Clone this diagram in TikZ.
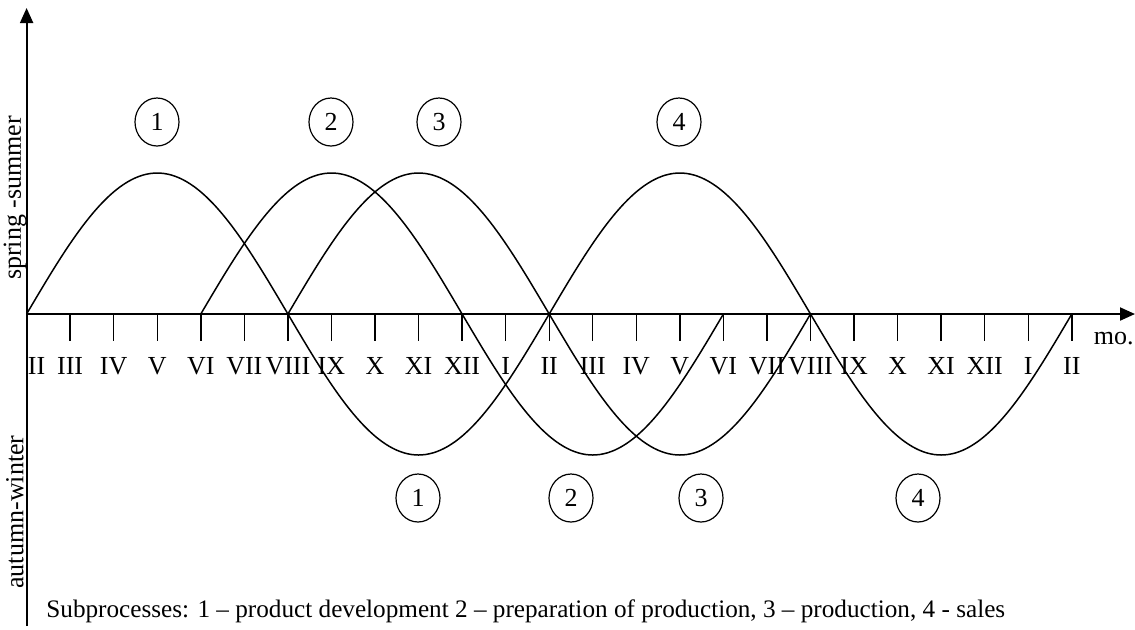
\documentclass[tikz,border=0pt]{standalone}
\usepackage{fontspec}
\setmainfont{Liberation Serif}
\usetikzlibrary{shapes,arrows.meta,positioning,calc}

\begin{document}
\begin{tikzpicture}[x=0.5pt,y=-0.5pt,
    every node/.style={font=\fontsize{13}{15}\selectfont},
    axis/.style={line width=1pt,-{Triangle[length=7.5pt,width=6.5pt]}},
    wave/.style={line width=0.75pt,smooth},
    numcirc/.style={draw,ellipse,line width=0.6pt,minimum width=22pt,minimum height=24pt,inner sep=0pt}]
  \useasboundingbox (0,0) rectangle (1135,629);
  % axes
  \coordinate (O) at (26.6,314);
  \coordinate (xend) at (1135,314);
  \coordinate (ytop) at (26.6,8);
  \coordinate (ybot) at (26.6,626);
  \draw[axis] (O) -- (xend);
  \draw[axis] (ybot) -- (ytop);
  % months
  \node (m0) at ($(O)+(10,52)$) {II};
  \foreach \m [count=\k from 1] in {III,IV,V,VI,VII,VIII,IX,X,XI,XII,I,II,III,IV,V,VI,VII,VIII,IX,X,XI,XII,I,II} {
    \draw[line width=0.7pt] ($(O)+(43.55*\k,0)$) -- ++(0,27);
    \node (m\k) at ($(O)+(43.55*\k,52)$) {\m};
  }
  % subprocess waves
  \foreach \s in {0,4,6,12}
    \draw[wave] plot[domain=0:12,samples=73] ({26.6+43.55*(\s+\x)},{314-141*sin(30*\x)});
  % numbers
  \node[numcirc] (t1) at (157,122) {1};
  \node[numcirc] (t2) at (331,122) {2};
  \node[numcirc] (t3) at (439,122) {3};
  \node[numcirc] (t4) at (679,122) {4};
  \node[numcirc] (b1) at (418,498) {1};
  \node[numcirc] (b2) at (571,498) {2};
  \node[numcirc] (b3) at (701,498) {3};
  \node[numcirc] (b4) at (918,498) {4};
  % labels
  \node[rotate=90] (ss) at (15,198) {spring -summer};
  \node[rotate=90] (aw) at (15,512) {autumn-winter};
  \node[anchor=east,inner sep=0pt] (mo) at (1134,339) {mo.};
  \node[anchor=base west,inner sep=0pt,font=\fontsize{12.6}{15}\selectfont] (legend) at (46,617)
    {Subprocesses: 1 – product development 2 – preparation of production, 3 – production, 4 - sales};
\end{tikzpicture}
\end{document}
